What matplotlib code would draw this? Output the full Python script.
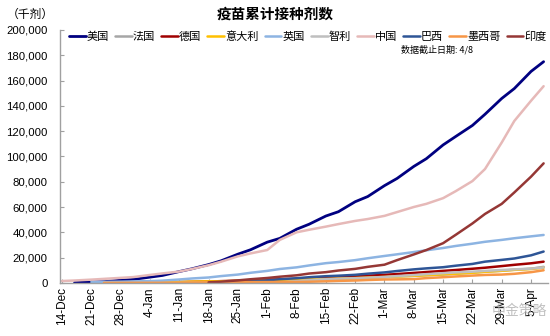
import numpy as np
import pandas as pd
import matplotlib
matplotlib.use("Agg")
import matplotlib.pyplot as plt

plt.rcParams['font.family'] = ['Liberation Sans', 'Noto Sans CJK SC', 'DejaVu Sans']
nan = np.nan

# Mondays and Thursdays, 14-Dec-2020 .. 8-Apr-2021
dates = ["2020-12-14", "2020-12-17", "2020-12-21", "2020-12-24", "2020-12-28", "2020-12-31",
         "2021-01-04", "2021-01-07", "2021-01-11", "2021-01-14", "2021-01-18", "2021-01-21",
         "2021-01-25", "2021-01-28", "2021-02-01", "2021-02-04", "2021-02-08", "2021-02-11",
         "2021-02-15", "2021-02-18", "2021-02-22", "2021-02-25", "2021-03-01", "2021-03-04",
         "2021-03-08", "2021-03-11", "2021-03-15", "2021-03-18", "2021-03-22", "2021-03-25",
         "2021-03-29", "2021-04-01", "2021-04-05", "2021-04-08"]

us = [nan, 270, 614, 1000, 2127, 2794, 4563, 5920, 8987, 11148, 14500, 17500,
      22734, 26193, 32222, 35204, 42417, 46390, 52884, 56281, 64177, 68274, 76899, 82573,
      92089, 98203, 109081, 115730, 124481, 133305, 145812, 153631, 167187, 174879]
france = [nan, nan, nan, nan, nan, nan, 10, 50, 190, 380, 620, 900,
          1200, 1500, 1750, 2000, 2300, 2700, 3000, 3300, 3700, 4200, 4600, 5100,
          5600, 6100, 6600, 7300, 8100, 8900, 9600, 10400, 11200, 12700]
germany = [nan, nan, nan, nan, 40, 200, 300, 450, 650, 850, 1100, 1400,
           1750, 2100, 2500, 2800, 3200, 3600, 4100, 4500, 5100, 5700, 6400, 7000,
           7900, 8600, 9500, 10200, 11200, 12000, 13300, 14300, 15500, 16800]
italy = [nan, nan, nan, nan, 9, 50, 180, 400, 800, 1000, 1200, 1300,
         1500, 1700, 2000, 2300, 2600, 2800, 3100, 3400, 3800, 4200, 4700, 5100,
         5600, 6100, 6800, 7300, 8000, 8800, 9600, 10300, 11000, 12000]
uk = [nan, nan, 700, 850, 1000, 1200, 1400, 1800, 2700, 3500, 4300, 5400,
      6600, 8000, 9500, 11000, 12300, 13800, 15600, 16500, 18000, 19500, 21300, 22600,
      24400, 25800, 27600, 29200, 31000, 32500, 34000, 35300, 36800, 37900]
chile = [nan, nan, nan, 5, 10, 15, 20, 25, 30, 35, 40, 45,
         50, 55, 60, 500, 1400, 2200, 2900, 3300, 3700, 4100, 4700, 5400,
         6200, 6900, 7700, 8300, 8900, 9500, 10200, 10700, 11300, 12200]
china = [1500, 1900, 2600, 3200, 4000, 4600, 6300, 7500, 9000, 11000, 14000, 16800,
         21000, 23300, 26000, 34000, 40000, 42000, 44500, 46500, 49000, 50500, 53000, 56000,
         60000, 62500, 67000, 72500, 80500, 90000, 111000, 128000, 144000, 155500]
brazil = [nan, nan, nan, nan, nan, nan, nan, nan, nan, nan, nan, 200,
          800, 1300, 2100, 2900, 3700, 4500, 5300, 5700, 6400, 7300, 8300, 9400,
          10700, 11500, 12400, 13600, 15000, 16800, 18200, 19300, 21800, 24800]
mexico = [nan, nan, nan, 5, 10, 40, 45, 60, 110, 250, 450, 550,
          600, 650, 680, 720, 750, 900, 1250, 1600, 1900, 2300, 2700, 2800,
          3000, 3800, 4500, 5100, 5800, 6300, 6600, 7200, 8500, 10000]
india = [nan, nan, nan, nan, nan, nan, nan, nan, nan, nan, 450, 1000,
         2000, 2900, 3900, 4900, 6000, 7400, 8500, 9800, 11100, 12700, 14400, 18000,
         22500, 26000, 31400, 38000, 47000, 54500, 62500, 71500, 84000, 94500]

names = ["美国", "法国", "德国", "意大利", "英国", "智利", "中国", "巴西", "墨西哥", "印度"]
series = [us, france, germany, italy, uk, chile, china, brazil, mexico, india]
colors = ["#000080", "#A6A6A6", "#A00000", "#FFC000", "#8DB4E2", "#BFBFBF",
          "#E6B9B8", "#2E5596", "#F79646", "#953735"]
widths = [2.0, 1.8, 1.8, 1.8, 1.8, 1.8, 1.8, 1.8, 1.8, 1.8]

tick_dates = pd.date_range("2020-12-14", "2021-04-05", freq="7D")
tick_labels = [f"{d.day}-{d.strftime('%b')}" for d in tick_dates]
yticks = list(range(0, 200001, 20000))

x = pd.to_datetime(dates)

fig = plt.figure(figsize=(5.5, 3.36), dpi=100)
ax = fig.add_axes([0.109, 0.158, 0.887, 0.753])

for name, vals, c, w in zip(names, series, colors, widths):
    ax.plot(x, vals, color=c, lw=w, label=name, solid_capstyle='round')

ax.set_ylim(0, 200000)
ax.set_xlim(pd.Timestamp("2020-12-13 12:00"), pd.Timestamp("2021-04-09"))
ax.set_yticks(yticks)
ax.set_yticklabels([f"{v:,}" for v in yticks], fontsize=8.2)
ax.set_xticks(tick_dates)
ax.set_xticklabels(tick_labels, rotation=90, fontsize=8.5)

for s in ["top", "right"]:
    ax.spines[s].set_visible(False)
for s in ["left", "bottom"]:
    ax.spines[s].set_color("#A0A0A0")
    ax.spines[s].set_linewidth(1.0)
ax.tick_params(axis='both', direction='in', length=3, color="#A0A0A0", pad=3)
ax.tick_params(axis='y', pad=9)

leg = ax.legend(loc='upper left', bbox_to_anchor=(0.005, 1.02), ncol=10, frameon=False,
                handlelength=1.5, handletextpad=0.1, columnspacing=0.55,
                prop={'family': 'Noto Sans CJK SC', 'size': 8}, borderaxespad=0.2)

fig.text(0.5, 0.958, "疫苗累计接种剂数", ha='center', va='center', fontsize=10.5,
         fontweight='bold', family='Noto Sans CJK SC')
fig.text(0.055, 0.958, "（千剂）", ha='center', va='center', fontsize=8.5,
         family='Noto Sans CJK SC')
fig.text(0.795, 0.853, "数据截止日期: 4/8", ha='center', va='center', fontsize=6.5,
         family=['Noto Sans CJK SC', 'DejaVu Sans'])
fig.text(0.945, 0.075, "中金策略", ha='center', va='center', fontsize=10,
         color="#B0B0B0", alpha=0.8, family='Noto Sans CJK SC')

fig.savefig("out.png", dpi=100)
